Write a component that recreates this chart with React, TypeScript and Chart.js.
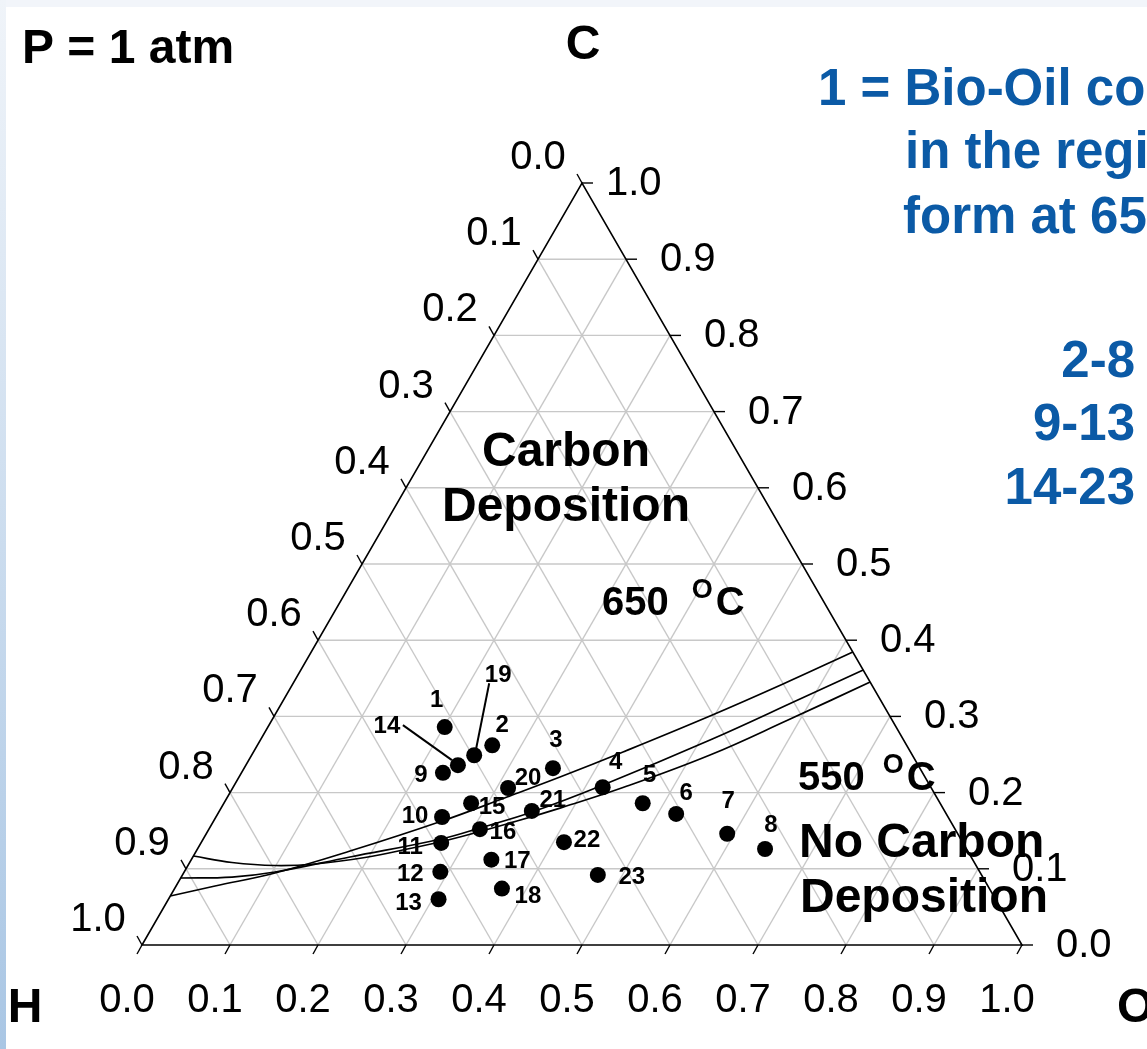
import React, { useEffect, useRef } from "react";
import { Chart, registerables } from "chart.js";

Chart.register(...registerables);

const S3 = Math.sqrt(3) / 2;
const W = 1147;
const H = 1049;
const FONT = '"Liberation Sans", Arial, "DejaVu Sans", sans-serif';

// tick values / labels (shared by the three ternary axes)
const tickValues = [0, 0.1, 0.2, 0.3, 0.4, 0.5, 0.6, 0.7, 0.8, 0.9, 1.0];
const tickLabels = ["0.0", "0.1", "0.2", "0.3", "0.4", "0.5", "0.6", "0.7", "0.8", "0.9", "1.0"];

// bio-oil compositions (mole fractions of C and O; H = 1 - C - O)
const pointIds = ["1", "2", "3", "4", "5", "6", "7", "8", "9", "10", "11", "12", "13", "14", "15", "16", "17", "18", "19", "20", "21", "22", "23"];
const pointC = [0.286, 0.262, 0.232, 0.207, 0.186, 0.172, 0.146, 0.126, 0.226, 0.168, 0.134, 0.096, 0.060, 0.236, 0.186, 0.152, 0.112, 0.074, 0.249, 0.206, 0.176, 0.135, 0.092];
const pointO = [0.201, 0.267, 0.351, 0.420, 0.476, 0.521, 0.592, 0.645, 0.229, 0.257, 0.273, 0.291, 0.307, 0.241, 0.281, 0.308, 0.341, 0.372, 0.253, 0.313, 0.355, 0.412, 0.472];

// carbon deposition boundary curves (C, O fractions)
const curve1C = [0.0643, 0.0774, 0.0945, 0.1233, 0.1627, 0.1942, 0.2204, 0.2533, 0.3005, 0.3425, 0.3845];
const curve1O = [0.0000, 0.0443, 0.1039, 0.1747, 0.2596, 0.3177, 0.3648, 0.4200, 0.4952, 0.5572, 0.6155];
const curve2C = [0.0879, 0.0892, 0.0958, 0.1155, 0.1391, 0.1548, 0.1745, 0.2100, 0.2690, 0.3228, 0.3609];
const curve2O = [0.0000, 0.0577, 0.1032, 0.1786, 0.2703, 0.3101, 0.3560, 0.4189, 0.5110, 0.5863, 0.6391];
const curve3C = [0.1168, 0.1083, 0.1043, 0.1063, 0.1148, 0.1266, 0.1384, 0.1627, 0.1797, 0.2066, 0.2493, 0.2952, 0.3451];
const curve3O = [0.0000, 0.0481, 0.0990, 0.1435, 0.1960, 0.2412, 0.2808, 0.3447, 0.3852, 0.4433, 0.5208, 0.5865, 0.6549];

// label placement (pixel offsets from each marker) — styling only
const labelOffsets: [number, number][] = [
  [-8, -27], [10, -20], [3, -28], [13, -25], [7, -28], [10, -21], [1, -32], [6, -24],
  [-22, 3], [-27, -1], [-31, 4], [-30, 3], [-30, 4], [-71, -39], [21, 4], [23, 3],
  [26, 2], [26, 8], [24, -80], [20, -10], [21, -11], [23, -2], [34, 2],
];
// leader lines: index -> [fromDx, fromDy, toDx, toDy]
const leaders: Record<number, [number, number, number, number]> = {
  13: [-55, -40, -6, -5],
  18: [15, -72, 1, -2],
};

const toXY = (c: number, o: number) => ({ x: o + c / 2, y: c * S3 });

function makeCurve(cs: number[], os: number[]) {
  return cs.map((c, i) => toXY(c, os[i]));
}

function text(ctx: CanvasRenderingContext2D, s: string, x: number, y: number, font: string, color: string, align: CanvasTextAlign = "left", baseline: CanvasTextBaseline = "alphabetic") {
  ctx.font = font;
  ctx.fillStyle = color;
  ctx.textAlign = align;
  ctx.textBaseline = baseline;
  ctx.fillText(s, x, y);
}

function tempLabel(ctx: CanvasRenderingContext2D, num: string, x: number, y: number, gap: number) {
  ctx.fillStyle = "#000";
  ctx.textAlign = "left";
  ctx.textBaseline = "alphabetic";
  ctx.font = `bold 40px ${FONT}`;
  ctx.fillText(num, x, y);
  const w = ctx.measureText(num + " ").width;
  const ox = x + w + gap;
  ctx.font = `bold 27px ${FONT}`;
  ctx.fillText("O", ox, y - 17);
  const w2 = ctx.measureText("O").width;
  ctx.font = `bold 40px ${FONT}`;
  ctx.fillText("C", ox + w2 + 3, y);
}

const ternaryPlugin = {
  id: "ternary",
  beforeDraw(chart: any) {
    const ctx: CanvasRenderingContext2D = chart.ctx;
    ctx.save();
    ctx.fillStyle = "#ffffff";
    ctx.fillRect(0, 0, W, H);
    ctx.fillStyle = "#f2f5fa";
    ctx.fillRect(0, 0, W, 7);
    const g = ctx.createLinearGradient(0, 0, 0, H);
    g.addColorStop(0, "#f0f4f9");
    g.addColorStop(1, "#a9c6e4");
    ctx.fillStyle = g;
    ctx.fillRect(0, 0, 6, H);
    ctx.restore();
  },
  beforeDatasetsDraw(chart: any) {
    const ctx: CanvasRenderingContext2D = chart.ctx;
    const xs = chart.scales.x;
    const ys = chart.scales.y;
    const P = (c: number, o: number): [number, number] => [xs.getPixelForValue(o + c / 2), ys.getPixelForValue(c * S3)];
    const line = (a: [number, number], b: [number, number]) => {
      ctx.beginPath();
      ctx.moveTo(a[0], a[1]);
      ctx.lineTo(b[0], b[1]);
      ctx.stroke();
    };
    ctx.save();
    // grid
    ctx.strokeStyle = "#c8c8c8";
    ctx.lineWidth = 1.4;
    for (let k = 1; k < tickValues.length - 1; k++) {
      const t = tickValues[k];
      line(P(t, 0), P(t, 1 - t));
      line(P(0, t), P(1 - t, t));
      line(P(0, 1 - t), P(1 - t, 0));
    }
    // triangle
    ctx.strokeStyle = "#000";
    ctx.lineWidth = 1.6;
    ctx.beginPath();
    const a = P(0, 0), b = P(0, 1), c = P(1, 0);
    ctx.moveTo(a[0], a[1]);
    ctx.lineTo(b[0], b[1]);
    ctx.lineTo(c[0], c[1]);
    ctx.closePath();
    ctx.stroke();
    // ticks + labels
    ctx.lineWidth = 1.4;
    const tf = `40px ${FONT}`;
    tickValues.forEach((v, i) => {
      // bottom axis: O fraction
      const pb = P(0, v);
      line(pb, [pb[0] - 5, pb[1] + 9]);
      text(ctx, tickLabels[i], pb[0] - 15, pb[1] + 56, tf, "#000", "center", "middle");
      // left axis: H fraction
      const pl = P(1 - v, 0);
      line(pl, [pl[0] - 5, pl[1] - 9]);
      text(ctx, tickLabels[i], pl[0] - 44, pl[1] - 25, tf, "#000", "center", "middle");
      // right axis: C fraction
      const pr = P(v, 1 - v);
      line(pr, [pr[0] + 11, pr[1]]);
      text(ctx, tickLabels[i], pr[0] + (v === 1 ? 24 : 34), pr[1] + 1, tf, "#000", "left", "middle");
    });
    ctx.restore();
  },
  afterDatasetsDraw(chart: any) {
    const ctx: CanvasRenderingContext2D = chart.ctx;
    const meta = chart.getDatasetMeta(0);
    ctx.save();
    ctx.strokeStyle = "#000";
    ctx.lineWidth = 2;
    meta.data.forEach((el: any, i: number) => {
      const [dx, dy] = labelOffsets[i];
      text(ctx, pointIds[i], el.x + dx, el.y + dy, `bold 24px ${FONT}`, "#000", "center", "middle");
      const ld = leaders[i];
      if (ld) {
        ctx.beginPath();
        ctx.moveTo(el.x + ld[0], el.y + ld[1]);
        ctx.lineTo(el.x + ld[2], el.y + ld[3]);
        ctx.stroke();
      }
    });
    const big = `bold 48px ${FONT}`;
    text(ctx, "P = 1 atm", 22, 63, big, "#000");
    text(ctx, "C", 583, 59, big, "#000", "center");
    text(ctx, "H", 25, 1022, big, "#000", "center");
    text(ctx, "O", 1117, 1022, big, "#000", "left");
    text(ctx, "Carbon", 566, 466, big, "#000", "center");
    text(ctx, "Deposition", 566, 521, big, "#000", "center");
    text(ctx, "No Carbon", 799, 857, big, "#000", "left");
    text(ctx, "Deposition", 800, 912, big, "#000", "left");
    tempLabel(ctx, "650", 602, 615, 12);
    tempLabel(ctx, "550", 798, 790, 7);
    const blue = "#0b5aa6";
    const bf = `bold 51px ${FONT}`;
    text(ctx, "1 = Bio-Oil composition", 818, 105, bf, blue);
    text(ctx, "in the region where", 905, 168, bf, blue);
    text(ctx, "form at 650 °C", 903, 233, bf, blue);
    text(ctx, "2-8", 1135, 377, bf, blue, "right");
    text(ctx, "9-13", 1135, 440, bf, blue, "right");
    text(ctx, "14-23", 1135, 504, bf, blue, "right");
    ctx.restore();
  },
};

export default function App() {
  const ref = useRef<HTMLCanvasElement | null>(null);
  useEffect(() => {
    document.body.style.margin = "0";
    if (!ref.current) return;
    const curveStyle = {
      showLine: true,
      pointRadius: 0,
      borderColor: "#000",
      borderWidth: 1.7,
      fill: false,
      tension: 0.4,
      clip: false as any,
    };
    const chart = new Chart(ref.current, {
      type: "scatter",
      data: {
        datasets: [
          {
            label: "Bio-oil",
            data: pointC.map((c, i) => toXY(c, pointO[i])),
            pointRadius: 8,
            pointHoverRadius: 8,
            backgroundColor: "#000",
            borderWidth: 0,
            clip: false as any,
          },
          { label: "boundary 1", data: makeCurve(curve1C, curve1O), ...curveStyle },
          { label: "boundary 2", data: makeCurve(curve2C, curve2O), ...curveStyle },
          { label: "boundary 3", data: makeCurve(curve3C, curve3O), ...curveStyle },
        ],
      },
      options: {
        responsive: false,
        animation: false,
        layout: { padding: { left: 142, right: 125, top: 183, bottom: 104 } },
        scales: {
          x: { type: "linear", min: 0, max: 1, display: false },
          y: { type: "linear", min: 0, max: S3, display: false },
        },
        plugins: { legend: { display: false }, tooltip: { enabled: false } },
      },
      plugins: [ternaryPlugin as any],
    });
    return () => chart.destroy();
  }, []);
  return (
    <div style={{ width: W, height: H, position: "relative", overflow: "hidden" }}>
      <canvas ref={ref} width={W} height={H} style={{ display: "block", width: W, height: H }} />
    </div>
  );
}
